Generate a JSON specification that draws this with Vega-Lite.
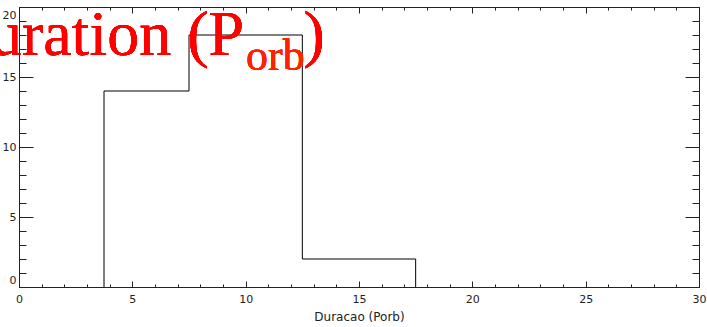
{
  "$schema": "https://vega.github.io/schema/vega-lite/v6.json",
  "width": 680,
  "height": 280,
  "autosize": {"type": "none"},
  "padding": {"left": 19, "top": 7, "right": 8, "bottom": 40},
  "background": "white",
  "config": {
    "view": {"stroke": null},
    "axis": {
      "domainColor": "#222", "tickColor": "#222", "labelColor": "#222",
      "labelFont": "DejaVu Sans", "labelFontSize": 11, "grid": false,
      "titleFont": "DejaVu Sans", "titleFontWeight": "normal", "titleFontSize": 12, "titleColor": "#222",
      "domainWidth": 1, "tickWidth": 1
    }
  },
  "data": {"values": [
    {"i": 0, "x": 3.75, "count": 0},
    {"i": 1, "x": 3.75, "count": 14},
    {"i": 2, "x": 7.5, "count": 18},
    {"i": 3, "x": 12.5, "count": 2},
    {"i": 4, "x": 17.5, "count": 0}
  ]},
  "layer": [
    {
      "mark": {"type": "line", "color": "#000", "strokeWidth": 1, "interpolate": "step-after"},
      "encoding": {
        "x": {"field": "x", "type": "quantitative", "scale": {"domain": [0, 30], "nice": false, "zero": false},
          "axis": {"orient": "bottom", "values": [0, 5, 10, 15, 20, 25, 30], "ticks": false, "domain": true, "labelPadding": 6, "labelFlush": false, "title": "Duracao (Porb)", "titlePadding": 7}},
        "y": {"field": "count", "type": "quantitative", "scale": {"domain": [0, 20], "nice": false},
          "axis": {"orient": "left", "values": [0, 5, 10, 15, 20], "ticks": false, "domain": true, "labelPadding": 3, "labelFlush": true, "labelFlushOffset": -2, "title": null}},
        "order": {"field": "i"}
      }
    },
    {
      "mark": {"type": "line", "opacity": 0},
      "encoding": {
        "x": {"field": "x", "type": "quantitative",
          "axis": {"orient": "bottom", "values": [0, 5, 10, 15, 20, 25, 30], "tickSize": -6, "labels": false, "domain": false, "title": null}},
        "y": {"field": "count", "type": "quantitative",
          "axis": {"orient": "left", "values": [0, 5, 10, 15, 20], "tickSize": -14, "labels": false, "domain": false, "title": null}}
      }
    },
    {
      "mark": {"type": "line", "opacity": 0},
      "encoding": {
        "x": {"field": "x", "type": "quantitative",
          "axis": {"orient": "bottom", "values": [0,1,2,3,4,5,6,7,8,9,10,11,12,13,14,15,16,17,18,19,20,21,22,23,24,25,26,27,28,29,30], "tickSize": -3, "labels": false, "domain": false, "title": null}},
        "y": {"field": "count", "type": "quantitative",
          "axis": {"orient": "left", "values": [0,1,2,3,4,5,6,7,8,9,10,11,12,13,14,15,16,17,18,19,20], "tickSize": -7, "labels": false, "domain": false, "title": null}}
      }
    },
    {
      "mark": {"type": "line", "opacity": 0},
      "encoding": {
        "x": {"field": "x", "type": "quantitative",
          "axis": {"orient": "top", "values": [0, 5, 10, 15, 20, 25, 30], "tickSize": -6, "labels": false, "domain": true, "title": null}},
        "y": {"field": "count", "type": "quantitative",
          "axis": {"orient": "right", "values": [0, 5, 10, 15, 20], "tickSize": -14, "labels": false, "domain": true, "title": null}}
      }
    },
    {
      "mark": {"type": "line", "opacity": 0},
      "encoding": {
        "x": {"field": "x", "type": "quantitative",
          "axis": {"orient": "top", "values": [0,1,2,3,4,5,6,7,8,9,10,11,12,13,14,15,16,17,18,19,20,21,22,23,24,25,26,27,28,29,30], "tickSize": -3, "labels": false, "domain": false, "title": null}},
        "y": {"field": "count", "type": "quantitative",
          "axis": {"orient": "right", "values": [0,1,2,3,4,5,6,7,8,9,10,11,12,13,14,15,16,17,18,19,20], "tickSize": -7, "labels": false, "domain": false, "title": null}}
      }
    },
    {
      "mark": {"type": "text", "text": "Duration (P", "align": "right", "baseline": "alphabetic", "font": "Liberation Serif", "fontSize": 64, "color": "#ff0000"},
      "encoding": {
        "x": {"datum": 9.93, "type": "quantitative", "axis": null},
        "y": {"datum": 16.6, "type": "quantitative", "axis": null}
      }
    },
    {
      "mark": {"type": "text", "text": "orb", "align": "left", "baseline": "alphabetic", "font": "Liberation Serif", "fontSize": 44, "color": "#ff2200"},
      "encoding": {
        "x": {"datum": 10.02, "type": "quantitative", "axis": null},
        "y": {"datum": 15.5, "type": "quantitative", "axis": null}
      }
    },
    {
      "mark": {"type": "text", "text": ")", "align": "left", "baseline": "alphabetic", "font": "Liberation Serif", "fontSize": 64, "color": "#ff0000"},
      "encoding": {
        "x": {"datum": 12.55, "type": "quantitative", "axis": null},
        "y": {"datum": 16.6, "type": "quantitative", "axis": null}
      }
    }
  ],
  "resolve": {"axis": {"x": "independent", "y": "independent"}}
}
